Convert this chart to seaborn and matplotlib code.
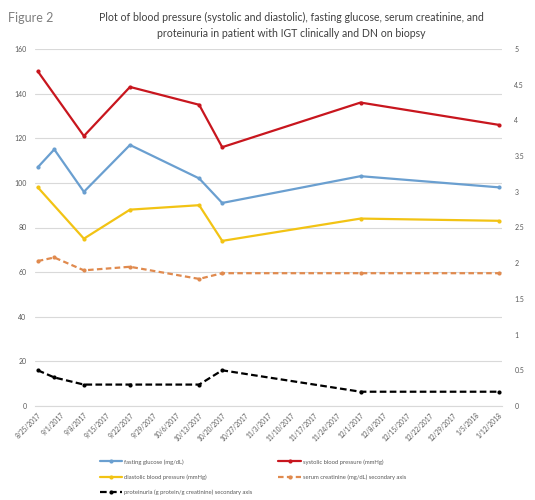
import pandas as pd
import matplotlib
matplotlib.use("Agg")
import matplotlib.pyplot as plt
import seaborn as sns
from matplotlib.ticker import FuncFormatter

# data
dates = ["2017-08-25", "2017-08-30", "2017-09-08", "2017-09-22",
         "2017-10-13", "2017-10-20", "2017-12-01", "2018-01-12"]
fasting_glucose = [107, 115, 96, 117, 102, 91, 103, 98]
systolic_bp = [150, None, 121, 143, 135, 116, 136, 126]
diastolic_bp = [98, None, 75, 88, 90, 74, 84, 83]
serum_creatinine = [2.03, 2.08, 1.9, 1.95, 1.78, 1.86, 1.86, 1.86]
proteinuria = [0.5, 0.4, 0.3, 0.3, 0.3, 0.5, 0.2, 0.2]

left_ticks = [0, 20, 40, 60, 80, 100, 120, 140, 160]
right_ticks = [0, 0.5, 1, 1.5, 2, 2.5, 3, 3.5, 4, 4.5, 5]
tick_dates = pd.date_range("2017-08-25", "2018-01-12", freq="7D")

df = pd.DataFrame({
    "date": pd.to_datetime(dates),
    "fg": fasting_glucose,
    "sys": systolic_bp,
    "dia": diastolic_bp,
    "cr": serum_creatinine,
    "prot": proteinuria,
})

sns.set_style("white")
plt.rcParams["font.family"] = ["Lato", "DejaVu Sans"]

grey = "#595959"
fig = plt.figure(figsize=(5.35, 5.0), dpi=100)
ax = fig.add_axes([0.065, 0.188, 0.873, 0.714])
ax2 = ax.twinx()

lw = 1.6
ms = 3
# primary axis
d = df.dropna(subset=["fg"])
sns.lineplot(data=d, x="date", y="fg", ax=ax, color="#6A9FD0", lw=lw,
             marker="o", markersize=ms, markeredgewidth=0,
             label="fasting glucose (mg/dL)")
d = df.dropna(subset=["sys"])
sns.lineplot(data=d, x="date", y="sys", ax=ax, color="#C8161E", lw=lw,
             marker="o", markersize=ms, markeredgewidth=0,
             label="systolic blood pressure (mmHg)")
d = df.dropna(subset=["dia"])
sns.lineplot(data=d, x="date", y="dia", ax=ax, color="#F2C314", lw=lw,
             marker="o", markersize=ms, markeredgewidth=0,
             label="diastolic blood pressure (mmHg)")
# secondary axis
sns.lineplot(data=df, x="date", y="cr", ax=ax2, color="#E08A4E", lw=lw,
             ls=(0, (2.5, 1.5)), marker="o", markersize=ms, markeredgewidth=0,
             label="serum creatinine (mg/dL) secondary axis")
sns.lineplot(data=df, x="date", y="prot", ax=ax2, color="black", lw=lw,
             ls=(0, (3, 1.5)), marker="o", markersize=ms, markeredgewidth=0,
             label="proteinuria (g protein/g creatinine) secondary axis")

ax.set_ylim(0, 160)
ax.set_yticks(left_ticks)
ax2.set_ylim(0, 5)
ax2.set_yticks(right_ticks)
ax2.yaxis.set_major_formatter(FuncFormatter(lambda v, _: f"{v:g}"))

ax.set_xlim(pd.Timestamp("2017-08-24 02:00"), pd.Timestamp("2018-01-12 22:00"))
ax.set_xticks(tick_dates)
ax.xaxis.set_major_formatter(
    FuncFormatter(lambda v, _: (lambda t: f"{t.month}/{t.day}/{t.year}")(
        matplotlib.dates.num2date(v))))

ax.grid(axis="y", color="#D9D9D9", lw=0.8)
ax.set_axisbelow(True)
for a in (ax, ax2):
    for s in a.spines.values():
        s.set_visible(False)
    a.set_xlabel("")
    a.set_ylabel("")
ax.spines["bottom"].set_visible(True)
ax.spines["bottom"].set_color("#D9D9D9")

ax.tick_params(axis="y", labelsize=5, colors=grey, length=0, pad=6)
ax2.tick_params(axis="y", labelsize=5, colors=grey, length=0, pad=9)
ax.tick_params(axis="x", labelsize=4.7, colors=grey, length=3, width=0.6,
               direction="out", pad=1)
ax.tick_params(axis="x", color="#D9D9D9")
plt.setp(ax.get_xticklabels(), rotation=45, ha="right", rotation_mode="anchor")

# legend below the plot
h1, l1 = ax.get_legend_handles_labels()
h2, l2 = ax2.get_legend_handles_labels()
ax.get_legend().remove()
ax2.get_legend().remove()
handles = [h1[0], h1[2], h2[1], h1[1], h2[0]]
labels = [l1[0], l1[2], l2[1], l1[1], l2[0]]
fig.legend(handles, labels, ncol=2, loc="upper left",
           bbox_to_anchor=(100 / 535, 1 - 459 / 500), frameon=False,
           fontsize=4.2, labelcolor=grey, handlelength=3.8, handletextpad=0.4,
           columnspacing=4.4, labelspacing=1.7, borderpad=0, borderaxespad=0)

fig.text(0.015, 0.965, "Figure 2", fontsize=9, color="#7F7F7F", va="center")
fig.text(0.545, 0.965,
         "Plot of blood pressure (systolic and diastolic), fasting glucose, serum creatinine, and",
         fontsize=7.6, color="#404040", ha="center", va="center")
fig.text(0.545, 0.933,
         "proteinuria in patient with IGT clinically and DN on biopsy",
         fontsize=7.6, color="#404040", ha="center", va="center")

fig.savefig("out.png", dpi=100)
